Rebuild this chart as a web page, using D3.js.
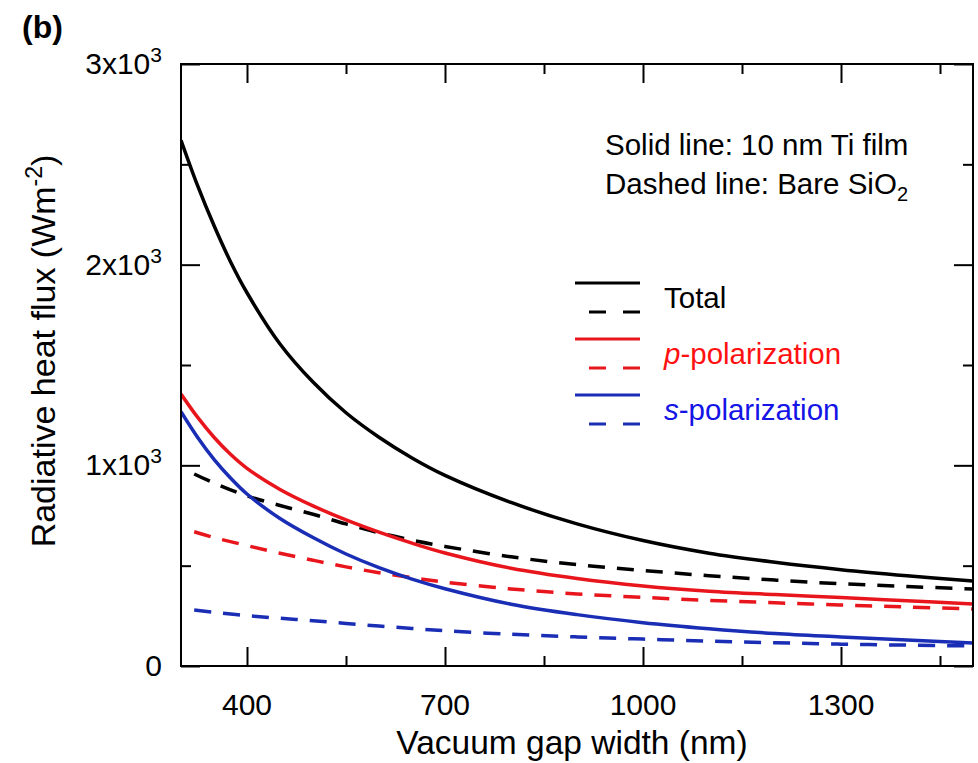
<!DOCTYPE html>
<html>
<head>
<meta charset="utf-8">
<script src="https://cdn.jsdelivr.net/npm/d3@7"></script>
<style>
  html, body { margin: 0; padding: 0; background: #fff; }
  svg { display: block; font-family: "Liberation Sans", Arial, Helvetica, sans-serif; }
</style>
</head>
<body>
<svg id="chart" width="978" height="763"></svg>
<script>
// Vacuum gap widths (nm) for the 10 nm Ti film curves
const gapTi = [300, 325, 350, 375, 400, 450, 500, 550, 600, 650, 700, 800, 900, 1000, 1100, 1200, 1300, 1400, 1500];
// Radiative heat flux (W m^-2), 10 nm Ti film
const totalTi = [2620, 2395, 2195, 2015, 1860, 1605, 1415, 1262, 1140, 1037, 950, 815, 708, 625, 562, 517, 480, 450, 424];
const pTi     = [1355, 1240, 1140, 1055, 985, 880, 798, 728, 667, 612, 563, 487, 436, 399, 373, 356, 341, 325, 309];
const sTi     = [1267, 1140, 1030, 937, 857, 735, 640, 558, 490, 433, 385, 308, 256, 216, 186, 162, 145, 129, 115];

// Vacuum gap widths (nm) for the bare SiO2 curves
const gapBare = [320, 350, 400, 450, 500, 550, 600, 650, 700, 800, 900, 1000, 1100, 1200, 1300, 1400, 1500];
// Radiative heat flux (W m^-2), bare SiO2
const totalBare = [957, 912, 848, 800, 756, 708, 664, 627, 596, 544, 505, 476, 450, 428, 410, 396, 384];
const pBare     = [669, 640, 600, 562, 527, 494, 465, 440, 418, 384, 359, 342, 327, 315, 304, 294, 284];
const sBare     = [279, 268, 251, 238, 226, 212, 199, 187, 176, 158, 145, 134, 124, 116, 109, 104, 100];

// Axis ticks
const xMajor = [400, 700, 1000, 1300];
const xMinor = [550, 850, 1150, 1450];
const yMajor = [0, 1000, 2000, 3000];
const yMajorLabels = [["0", ""], ["1x10", "3"], ["2x10", "3"], ["3x10", "3"]];
const yMinor = [500, 1500, 2500];

// Legend entries
const legendItems = [
  { name: "Total", italic: "", color: "#000000", text: "#000000" },
  { name: "-polarization", italic: "p", color: "#e8161c", text: "#ff1111" },
  { name: "-polarization", italic: "s", color: "#1a2db5", text: "#1414e6" }
];

const series = [
  { x: gapTi, y: totalTi, color: "#000000", dashed: false },
  { x: gapBare, y: totalBare, color: "#000000", dashed: true },
  { x: gapTi, y: pTi, color: "#e8161c", dashed: false },
  { x: gapBare, y: pBare, color: "#e8161c", dashed: true },
  { x: gapTi, y: sTi, color: "#1a2db5", dashed: false },
  { x: gapBare, y: sBare, color: "#1a2db5", dashed: true }
];

const L = 181, R = 973, T = 64, B = 666;
const svg = d3.select("#chart");

const x = d3.scaleLinear().domain([300, 1500]).range([L, R]);
const y = d3.scaleLinear().domain([0, 3000]).range([B, T]);

// Clip region for the curves
svg.append("defs").append("clipPath").attr("id", "plotClip")
  .append("rect").attr("x", L).attr("y", T).attr("width", R - L).attr("height", B - T);

// Curves
const line = d3.line().curve(d3.curveCatmullRom.alpha(0.5));
const curves = svg.append("g").attr("clip-path", "url(#plotClip)");
series.forEach(s => {
  const pts = s.x.map((v, i) => [x(v), y(s.y[i])]);
  curves.append("path")
    .attr("d", line(pts))
    .attr("fill", "none")
    .attr("stroke", s.color)
    .attr("stroke-width", 3.5)
    .attr("stroke-dasharray", s.dashed ? "17,12" : null);
});

// Axes with inward ticks on all four sides
function styleAxis(g) {
  g.select(".domain").remove();
  g.selectAll(".tick line").attr("stroke", "#000").attr("stroke-width", 2);
  g.selectAll(".tick text").remove();
}
const axes = [
  [d3.axisBottom(x).tickValues(xMajor).tickSize(-19), `translate(0,${B})`],
  [d3.axisBottom(x).tickValues(xMinor).tickSize(-10), `translate(0,${B})`],
  [d3.axisTop(x).tickValues(xMajor).tickSize(-19), `translate(0,${T})`],
  [d3.axisTop(x).tickValues(xMinor).tickSize(-10), `translate(0,${T})`],
  [d3.axisLeft(y).tickValues(yMajor).tickSize(-19), `translate(${L},0)`],
  [d3.axisLeft(y).tickValues(yMinor).tickSize(-10), `translate(${L},0)`],
  [d3.axisRight(y).tickValues(yMajor).tickSize(-19), `translate(${R},0)`],
  [d3.axisRight(y).tickValues(yMinor).tickSize(-10), `translate(${R},0)`]
];
axes.forEach(([ax, tr]) => svg.append("g").attr("transform", tr).call(ax).call(styleAxis));

// Frame
svg.append("rect")
  .attr("x", L).attr("y", T).attr("width", R - L).attr("height", B - T)
  .attr("fill", "none").attr("stroke", "#000").attr("stroke-width", 2);

// X tick labels
svg.append("g").selectAll("text").data(xMajor).join("text")
  .attr("x", d => x(d)).attr("y", 715)
  .attr("text-anchor", "middle").attr("font-size", 30).attr("fill", "#000")
  .text(d => d);

// Y tick labels with superscript exponent
yMajor.forEach((v, i) => {
  const t = svg.append("text")
    .attr("x", 162).attr("y", y(v) + 10)
    .attr("text-anchor", "end").attr("font-size", 30).attr("fill", "#000");
  t.append("tspan").text(yMajorLabels[i][0]);
  if (yMajorLabels[i][1]) {
    t.append("tspan").attr("font-size", 21).attr("dy", -12).text(yMajorLabels[i][1]);
  }
});

// Axis titles
svg.append("text")
  .attr("x", 572).attr("y", 754)
  .attr("text-anchor", "middle").attr("font-size", 33.5).attr("fill", "#000")
  .text("Vacuum gap width (nm)");

const yt = svg.append("text")
  .attr("transform", "translate(55,351) rotate(-90)")
  .attr("text-anchor", "middle").attr("font-size", 34).attr("fill", "#000");
yt.append("tspan").text("Radiative heat flux (Wm");
yt.append("tspan").attr("font-size", 23).attr("dy", -13).text("-2");
yt.append("tspan").attr("dy", 13).text(")");

// Panel label
svg.append("text")
  .attr("x", 22).attr("y", 38)
  .attr("font-size", 32).attr("font-weight", "bold").attr("fill", "#000")
  .text("(b)");

// Annotation
svg.append("text")
  .attr("x", 605).attr("y", 155)
  .attr("font-size", 29.5).attr("fill", "#000")
  .text("Solid line: 10 nm Ti film");
const an2 = svg.append("text")
  .attr("x", 605).attr("y", 194)
  .attr("font-size", 29.5).attr("fill", "#000");
an2.append("tspan").text("Dashed line: Bare SiO");
an2.append("tspan").attr("font-size", 20).attr("dy", 7).text("2");

// Legend
const lg = svg.append("g");
legendItems.forEach((d, i) => {
  const y0 = 283 + i * 56;
  lg.append("line")
    .attr("x1", 575).attr("x2", 640).attr("y1", y0).attr("y2", y0)
    .attr("stroke", d.color).attr("stroke-width", 3);
  lg.append("line")
    .attr("x1", 589).attr("x2", 640).attr("y1", y0 + 29).attr("y2", y0 + 29)
    .attr("stroke", d.color).attr("stroke-width", 3)
    .attr("stroke-dasharray", "17,17");
  const t = lg.append("text")
    .attr("x", 664).attr("y", y0 + 25)
    .attr("font-size", 29.5).attr("fill", d.text);
  if (d.italic) t.append("tspan").attr("font-style", "italic").text(d.italic);
  t.append("tspan").text(d.name);
});
</script>
</body>
</html>
